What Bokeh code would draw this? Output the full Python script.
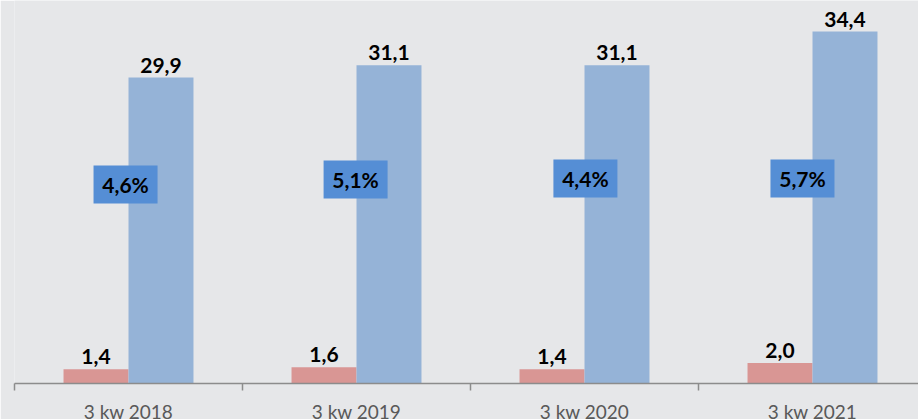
from bokeh.plotting import figure
from bokeh.models import ColumnDataSource, Range1d, FixedTicker
from bokeh.core.properties import value
from bokeh.embed import file_html
from bokeh.resources import INLINE

# ---- data ----
categories = ["3 kw 2018", "3 kw 2019", "3 kw 2020", "3 kw 2021"]
small_values = [1.4, 1.6, 1.4, 2.0]
large_values = [29.9, 31.1, 31.1, 34.4]
share_labels = ["4,6%", "5,1%", "4,4%", "5,7%"]

def fmt(v):
    return f"{v:.1f}".replace(".", ",")

# ---- layout / style ----
BG = "#e6e7e9"
RED = "#d99694"
BLUE = "#95b3d7"
BOX = "#558ed5"
FONT = "Lato"
bar_w = 0.285
box_dx = [-0.013, -0.004, 0.004, -0.044]   # box centre offset from category (category units)
box_y = [19.45, 19.95, 20.05, 20.05]       # box centre height (value units)

xc = [i + 0.5 for i in range(len(categories))]

src = ColumnDataSource(dict(
    xr=[x - bar_w / 2 for x in xc],
    xb=[x + bar_w / 2 for x in xc],
    xbox=[x + d for x, d in zip(xc, box_dx)],
    ybox=box_y,
    small=small_values,
    large=large_values,
    small_lbl=[fmt(v) for v in small_values],
    large_lbl=[fmt(v) for v in large_values],
    share=share_labels,
))

p = figure(frame_width=904, frame_height=383, output_backend="svg", toolbar_location=None,
           x_range=Range1d(0, 904 / 228), y_range=Range1d(0, 383 / 10.23),
           min_border_left=14, min_border_right=0, min_border_top=0)
p.background_fill_color = BG
p.border_fill_color = BG
p.outline_line_color = None
p.grid.visible = False
p.yaxis.visible = False

p.vbar(x="xr", top="small", width=bar_w, bottom=0, fill_color=RED, line_color=None, source=src)
p.vbar(x="xb", top="large", width=bar_w, bottom=0, fill_color=BLUE, line_color=None, source=src)

p.text(x="xr", y="small", text="small_lbl", source=src, text_align="center", text_baseline="bottom",
       y_offset=-5, text_font=value(FONT), text_font_style="bold", text_font_size="21px",
       text_color="black")
p.text(x="xb", y="large", text="large_lbl", source=src, text_align="center", text_baseline="bottom",
       y_offset=-5, text_font=value(FONT), text_font_style="bold", text_font_size="21px",
       text_color="black")

p.rect(x="xbox", y="ybox", width=64, height=38, width_units="screen", height_units="screen",
       fill_color=BOX, line_color=None, source=src)
p.text(x="xbox", y="ybox", text="share", source=src, text_align="center", text_baseline="middle",
       text_font=value(FONT), text_font_style="bold", text_font_size="21px", text_color="black")

ax = p.xaxis[0]
ax.ticker = FixedTicker(ticks=xc, minor_ticks=list(range(len(categories))))
ax.major_label_overrides = {x: c for x, c in zip(xc, categories)}
ax.major_tick_line_color = None
ax.major_tick_out = 0
ax.major_tick_in = 0
ax.minor_tick_line_color = "#8c8c8c"
ax.minor_tick_line_width = 1.5
ax.minor_tick_out = 7
ax.minor_tick_in = 0
ax.axis_line_color = "#8c8c8c"
ax.axis_line_width = 1.5
ax.major_label_standoff = 9
ax.major_label_text_font = FONT
ax.major_label_text_font_size = "19px"
ax.major_label_text_color = "#595959"

open("out.html", "w").write(file_html(p, INLINE))
